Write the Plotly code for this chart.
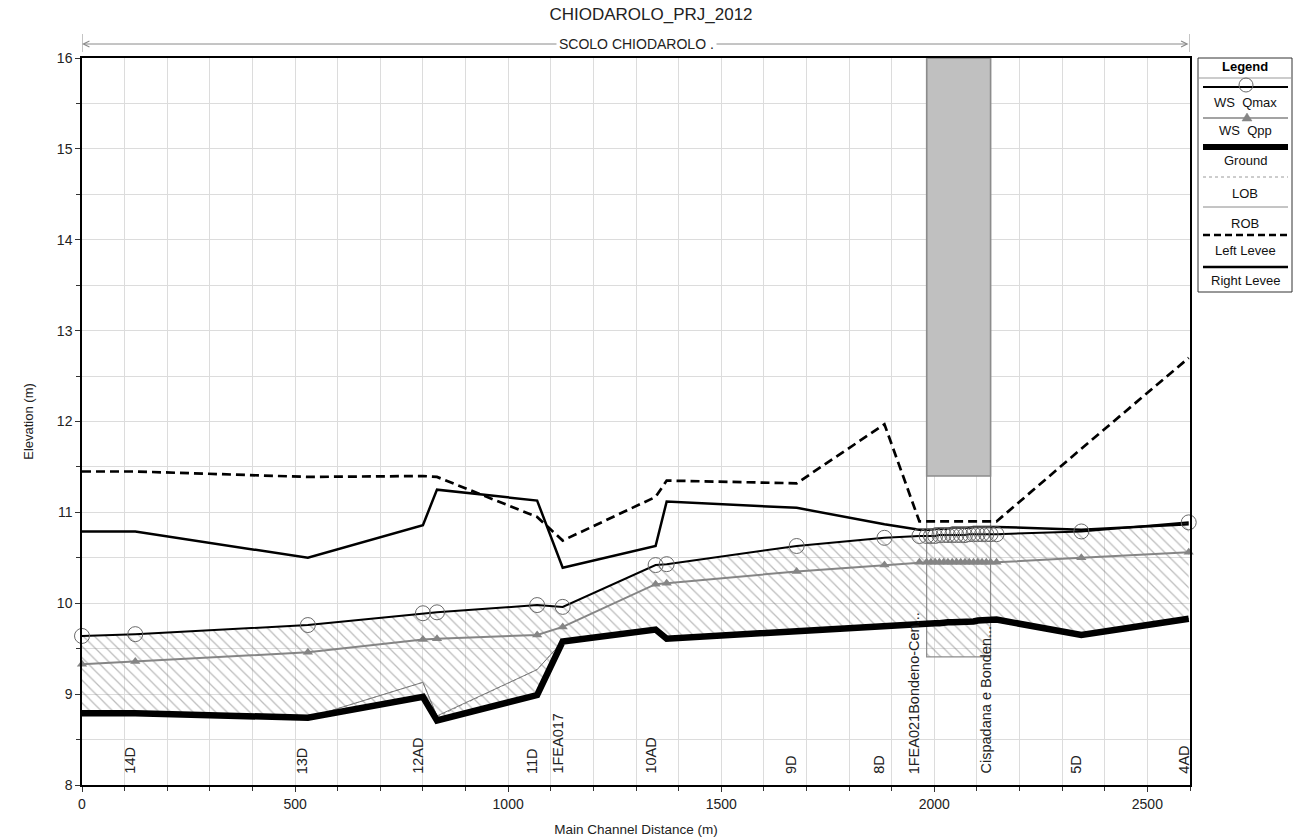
import plotly.graph_objects as go
import numpy as np

# ---------------- data ----------------
stations = [0, 125, 530, 800, 833, 1068, 1128, 1346, 1372, 1677, 1883, 1965,
            1982, 1992, 2002, 2012, 2022, 2032, 2042, 2052, 2062, 2072, 2082, 2092,
            2102, 2112, 2122, 2132, 2146, 2345, 2597]

ground = [8.79, 8.79, 8.74, 8.97, 8.71, 8.99, 9.58, 9.71, 9.61, 9.70, 9.76, 9.77,
          9.78, 9.78, 9.78, 9.78, 9.79, 9.79, 9.79, 9.79, 9.80, 9.80, 9.80, 9.80,
          9.81, 9.81, 9.81, 9.81, 9.82, 9.65, 9.83]

ws_qmax = [9.64, 9.66, 9.76, 9.89, 9.90, 9.98, 9.96, 10.42, 10.43, 10.63, 10.72, 10.74,
           10.74, 10.74, 10.74, 10.75, 10.75, 10.75, 10.75, 10.75, 10.75, 10.75, 10.76, 10.76,
           10.76, 10.76, 10.76, 10.76, 10.76, 10.79, 10.89]

ws_qpp = [9.33, 9.36, 9.46, 9.60, 9.61, 9.65, 9.74, 10.21, 10.22, 10.35, 10.42, 10.45,
          10.45, 10.45, 10.45, 10.45, 10.45, 10.45, 10.45, 10.45, 10.45, 10.45, 10.45, 10.45,
          10.45, 10.45, 10.45, 10.45, 10.45, 10.50, 10.56]

lob = [8.79, 8.79, 8.74, 9.13, 8.75, 9.27, 9.58, 9.71, 9.61, 9.70, 9.76, 9.77,
       9.78, 9.78, 9.78, 9.78, 9.79, 9.79, 9.79, 9.79, 9.80, 9.80, 9.80, 9.80,
       9.81, 9.81, 9.81, 9.81, 9.82, 9.65, 9.83]

rob = [8.79, 8.79, 8.74, 9.13, 8.76, 9.27, 9.58, 9.71, 9.61, 9.70, 9.76, 9.77,
       9.78, 9.78, 9.78, 9.78, 9.79, 9.79, 9.79, 9.79, 9.80, 9.80, 9.80, 9.80,
       9.81, 9.81, 9.81, 9.81, 9.82, 9.65, 9.83]

left_levee = [11.45, 11.45, 11.39, 11.40, 11.39, 10.95, 10.69, 11.17, 11.35, 11.32, 11.97, 10.90,
              10.90, 10.90, 10.90, 10.90, 10.90, 10.90, 10.90, 10.90, 10.90, 10.90, 10.90, 10.90,
              10.90, 10.90, 10.90, 10.90, 10.90, 11.70, 12.70]

right_levee = [10.79, 10.79, 10.50, 10.86, 11.25, 11.13, 10.39, 10.63, 11.12, 11.05, 10.87, 10.81,
               10.81, 10.81, 10.82, 10.82, 10.82, 10.82, 10.83, 10.83, 10.83, 10.83, 10.83, 10.84,
               10.84, 10.84, 10.84, 10.84, 10.84, 10.81, 10.87]

bridge_x = [1982, 2132]
bridge_low_chord = 11.40
bridge_bottom = 9.41

station_labels = ["14D", "13D", "12AD", "11D", "1FEA017", "10AD", "9D", "8D",
                  "1FEA021Bondeno-Cen...", "Cispadana e Bonden...", "5D", "4AD"]
station_label_x = [125, 530, 800, 1068, 1128, 1346, 1677, 1883, 1965, 2132, 2345, 2597]

x_range = [0, 2600]
y_range = [8, 16]
reach_name = "SCOLO CHIODAROLO ."
title_text = "CHIODAROLO_PRJ_2012"

# ---------------- layout geometry ----------------
W, H = 1294, 840
L, R, T, B = 82, 1190, 58, 785
FONT = "Liberation Sans, Arial, sans-serif"


def px_x(px):
    return (px - L) / (R - L)


def px_y(py):
    return (B - py) / (B - T)


HATCH = dict(shape="\\", fgcolor="#7a7a7a", bgcolor="rgba(0,0,0,0)", size=8, solidity=0.16)

fig = go.Figure()

# hatched flow area between ground and WS Qmax
fig.add_trace(go.Scatter(x=stations, y=ground, mode="lines", line=dict(width=0),
                         hoverinfo="skip", showlegend=False))
fig.add_trace(go.Scatter(x=stations, y=ws_qmax, mode="lines", line=dict(width=0),
                         fill="tonexty", fillcolor="rgba(0,0,0,0)", fillpattern=HATCH,
                         hoverinfo="skip", showlegend=False))

# hatched part below ground inside bridge opening
g0, g1 = np.interp(bridge_x, stations, ground)
fig.add_trace(go.Scatter(
    x=[bridge_x[0], bridge_x[1], bridge_x[1], bridge_x[0], bridge_x[0]],
    y=[bridge_bottom, bridge_bottom, g1, g0, bridge_bottom],
    mode="lines", line=dict(width=0), fill="toself", fillcolor="rgba(0,0,0,0)",
    fillpattern=HATCH, hoverinfo="skip", showlegend=False))

fig.add_trace(go.Scatter(x=stations, y=lob, mode="lines", name="LOB",
                         line=dict(color="#9a9a9a", width=1, dash="dot"), showlegend=False))
fig.add_trace(go.Scatter(x=stations, y=rob, mode="lines", name="ROB",
                         line=dict(color="#7a7a7a", width=1), showlegend=False))
fig.add_trace(go.Scatter(x=stations, y=ground, mode="lines", name="Ground",
                         line=dict(color="black", width=6.5), showlegend=False))
fig.add_trace(go.Scatter(x=stations, y=ws_qpp, mode="lines+markers", name="WS  Qpp",
                         line=dict(color="#858585", width=2),
                         marker=dict(symbol="triangle-up", size=9, color="#858585"),
                         showlegend=False, cliponaxis=False))
fig.add_trace(go.Scatter(x=stations, y=left_levee, mode="lines", name="Left Levee",
                         line=dict(color="black", width=2.7, dash="9px,5px"), showlegend=False))
fig.add_trace(go.Scatter(x=stations, y=right_levee, mode="lines", name="Right Levee",
                         line=dict(color="black", width=2.5), showlegend=False))
fig.add_trace(go.Scatter(x=stations, y=ws_qmax, mode="lines+markers", name="WS  Qmax",
                         line=dict(color="black", width=2),
                         marker=dict(symbol="circle-open", size=15, color="#6a6a6a",
                                     line=dict(width=1, color="#6a6a6a")),
                         showlegend=False, cliponaxis=False))

shapes = []
# bridge deck (gray) and opening outline
shapes.append(dict(type="rect", xref="x", yref="y", x0=bridge_x[0], x1=bridge_x[1],
                   y0=bridge_low_chord, y1=y_range[1], fillcolor="#c0c0c0",
                   line=dict(color="#8c8c8c", width=1.5), layer="between"))
shapes.append(dict(type="rect", xref="x", yref="y", x0=bridge_x[0], x1=bridge_x[1],
                   y0=bridge_bottom, y1=y_range[1], fillcolor="rgba(0,0,0,0)",
                   line=dict(color="#8c8c8c", width=1.2), layer="between"))

# reach extent marks above the plot
for xv in x_range:
    shapes.append(dict(type="line", xref="x", yref="paper", x0=xv, x1=xv,
                       y0=px_y(52), y1=px_y(34), line=dict(color="#8a8a8a", width=1)))

annotations = []
annotations.append(dict(x=x_range[0], y=px_y(44), xref="x", yref="paper",
                        ax=x_range[1], ay=0, axref="x", ayref="pixel",
                        showarrow=True, arrowside="end+start", arrowhead=5,
                        arrowsize=1.2, arrowwidth=1, arrowcolor="#8a8a8a", text=""))
annotations.append(dict(x=sum(x_range) / 2, y=px_y(44), xref="x", yref="paper",
                        xanchor="center", yanchor="middle",
                        text=reach_name, showarrow=False, bgcolor="white",
                        font=dict(family=FONT, size=14, color="#222"), borderpad=2))

# station labels
for lab, xv in zip(station_labels, station_label_x):
    annotations.append(dict(x=xv, y=8.1, xref="x", yref="y", text=lab, textangle=-90,
                            showarrow=False, xanchor="center", yanchor="bottom", xshift=-5,
                            font=dict(family=FONT, size=14.5, color="#222")))

# ---------------- custom legend ----------------
lx0, lx1 = 1198, 1292
lcx = 1245
shapes.append(dict(type="rect", xref="paper", yref="paper", x0=px_x(lx0), x1=px_x(lx1),
                   y0=px_y(292), y1=px_y(58), line=dict(color="#333", width=1),
                   fillcolor="white", layer="above"))
shapes.append(dict(type="line", xref="paper", yref="paper", x0=px_x(lx0), x1=px_x(lx1),
                   y0=px_y(78), y1=px_y(78), line=dict(color="#999", width=1)))
annotations.append(dict(x=px_x(lcx), y=px_y(67), xref="paper", yref="paper",
                        xanchor="center", yanchor="middle",
                        text="<b>Legend</b>", showarrow=False,
                        font=dict(family=FONT, size=13, color="black")))

legend_entries = [
    ("WS\u00a0 Qmax", 87, 102, dict(color="black", width=2)),
    ("WS\u00a0 Qpp", 118, 130, dict(color="#858585", width=1.5)),
    ("Ground", 147, 160, dict(color="black", width=6)),
    ("LOB", 177, 194, dict(color="#9a9a9a", width=1, dash="dot")),
    ("ROB", 207, 223, dict(color="#8a8a8a", width=1)),
    ("Left Levee", 235, 250, dict(color="black", width=2.5, dash="7px,4px")),
    ("Right Levee", 267, 280, dict(color="black", width=2.5)),
]
for name, sy, ty, ln in legend_entries:
    shapes.append(dict(type="line", xref="paper", yref="paper", x0=px_x(1203), x1=px_x(1288),
                       y0=px_y(sy), y1=px_y(sy), line=ln, layer="above"))
    annotations.append(dict(x=px_x(lcx), y=px_y(ty), xref="paper", yref="paper", text=name,
                            xanchor="center", yanchor="middle",
                            showarrow=False, font=dict(family=FONT, size=13, color="#111")))

# legend marker glyphs
shapes.append(dict(type="circle", xref="paper", yref="paper",
                   x0=px_x(1239), x1=px_x(1253), y0=px_y(92), y1=px_y(78),
                   line=dict(color="#6a6a6a", width=1), fillcolor="rgba(0,0,0,0)", layer="above"))
tri = "M {:.5f},{:.5f} L {:.5f},{:.5f} L {:.5f},{:.5f} Z".format(
    px_x(1242), px_y(121), px_x(1252), px_y(121), px_x(1247), px_y(113))
shapes.append(dict(type="path", xref="paper", yref="paper", path=tri,
                   fillcolor="#858585", line=dict(color="#858585", width=0.5), layer="above"))

grid = "#dcdcdc"
fig.update_layout(
    width=W, height=H,
    margin=dict(l=L, r=W - R, t=T, b=H - B, autoexpand=False),
    paper_bgcolor="white", plot_bgcolor="white",
    font=dict(family=FONT, size=14, color="#222"),
    title=dict(text=title_text, x=651 / W, xanchor="center", y=1 - 14 / H, yanchor="middle",
               font=dict(family=FONT, size=17, color="#222")),
    showlegend=False,
    shapes=shapes, annotations=annotations,
    xaxis=dict(range=x_range, dtick=500, tick0=0, ticks="outside", ticklen=5,
               tickcolor="#333", showline=True, linecolor="black", linewidth=1.5, mirror=True,
               showgrid=True, gridcolor=grid, gridwidth=1, zeroline=False,
               minor=dict(dtick=100, ticks="outside", ticklen=4, tickcolor="#333",
                          showgrid=True, gridcolor=grid, gridwidth=1),
               tickfont=dict(family=FONT, size=14, color="#222"),
               title=dict(text="Main Channel Distance (m)", standoff=14,
                          font=dict(family=FONT, size=13.5, color="#222"))),
    yaxis=dict(range=y_range, dtick=1, tick0=8, ticks="outside", ticklen=5,
               tickcolor="#333", showline=True, linecolor="black", linewidth=1.5, mirror=True,
               showgrid=True, gridcolor=grid, gridwidth=1, zeroline=False,
               minor=dict(dtick=0.5, ticks="outside", ticklen=4, tickcolor="#333",
                          showgrid=True, gridcolor=grid, gridwidth=1),
               tickfont=dict(family=FONT, size=14, color="#222"),
               title=dict(text="Elevation (m)", standoff=20,
                          font=dict(family=FONT, size=13, color="#222"))),
)

fig.write_html("out.html", config={"displayModeBar": False},
               post_script="document.body.style.margin='0';document.body.style.overflow='hidden';")
